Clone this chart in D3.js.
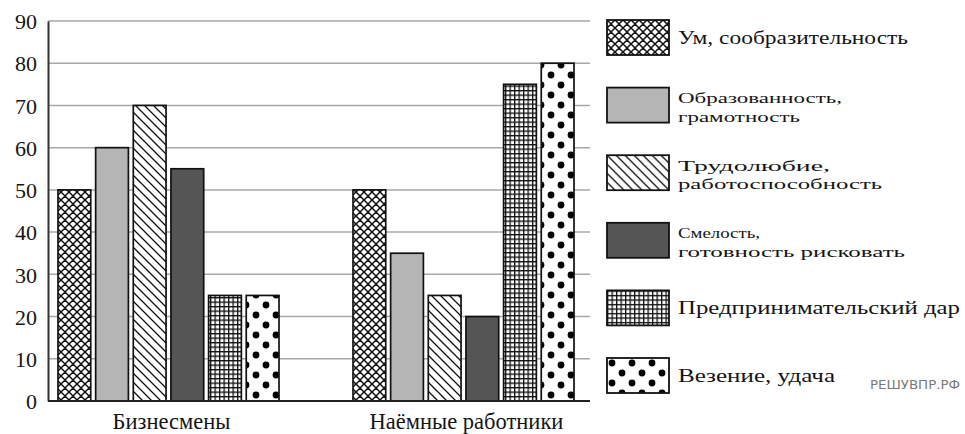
<!DOCTYPE html>
<html><head><meta charset="utf-8">
<script src="https://cdn.jsdelivr.net/npm/d3@7"></script>
<style>body{margin:0;background:#fff}svg{display:block}</style>
</head><body>
<svg id="c" width="965" height="434"></svg>
<script>
const categories = ["Бизнесмены", "Наёмные работники"];
const series = ["Ум, сообразительность", "Образованность, грамотность", "Трудолюбие, работоспособность", "Смелость, готовность рисковать", "Предпринимательский дар", "Везение, удача"];
const legendLines = [["Ум, сообразительность"], ["Образованность,", "грамотность"], ["Трудолюбие,", "работоспособность"], ["Смелость,", "готовность рисковать"], ["Предпринимательский дар"], ["Везение, удача"]];
const businessmen = [50, 60, 70, 55, 25, 25];
const employees = [50, 35, 25, 20, 75, 80];
const yTicks = [0, 10, 20, 30, 40, 50, 60, 70, 80, 90];
const watermark = "РЕШУВПР.РФ";

const values = [businessmen, employees];
const svg = d3.select("#c");
const defs = svg.append("defs");
const font = "'Liberation Serif', 'DejaVu Serif', 'Liberation Sans', sans-serif";

// patterns
const pCross = defs.append("pattern").attr("id","p0").attr("patternUnits","userSpaceOnUse").attr("width",8).attr("height",8);
pCross.append("rect").attr("width",8).attr("height",8).attr("fill","#fff");
pCross.append("path").attr("d","M0,0L8,8M8,0L0,8M-4,4L0,8M4,-4L12,4M4,12L12,4M-4,4L4,-4").attr("stroke","#111").attr("stroke-width",1.5);
const pDiag = defs.append("pattern").attr("id","p2").attr("patternUnits","userSpaceOnUse").attr("width",9).attr("height",9);
pDiag.append("rect").attr("width",9).attr("height",9).attr("fill","#fff");
pDiag.append("path").attr("d","M0,0L9,9M-9,0L9,18M0,-9L18,9").attr("stroke","#111").attr("stroke-width",1.3);
const pGrid = defs.append("pattern").attr("id","p4").attr("patternUnits","userSpaceOnUse").attr("width",4.5).attr("height",4.5);
pGrid.append("rect").attr("width",4.5).attr("height",4.5).attr("fill","#fff");
pGrid.append("path").attr("d","M0,0H4.5M0,0V4.5").attr("stroke","#111").attr("stroke-width",2.6);
const pDots = defs.append("pattern").attr("id","p5").attr("patternUnits","userSpaceOnUse").attr("width",20).attr("height",20);
pDots.append("rect").attr("width",20).attr("height",20).attr("fill","#fff");
[[5,5],[15,15],[-5,15],[25,15],[15,-5],[15,25]].forEach(([cx,cy])=>pDots.append("circle").attr("cx",cx).attr("cy",cy).attr("r",3.4).attr("fill","#000"));

const fills = ["url(#p0)", "#b5b5b5", "url(#p2)", "#555555", "url(#p4)", "url(#p5)"];

const y = d3.scaleLinear().domain([0, 90]).range([401, 21]);
const x0 = d3.scaleBand().domain(categories).range([21, 611]);
const x1 = d3.scaleBand().domain(series).range([37, 258]).paddingInner(0.13);
const axisX = 48, plotRight = 590;

// gridlines
svg.append("g").selectAll("line").data(yTicks.filter(d=>d>0)).join("line")
  .attr("x1", axisX).attr("x2", plotRight).attr("y1", d=>y(d)).attr("y2", d=>y(d))
  .attr("stroke", "#a8a8a8").attr("stroke-width", 1.5);

// y axis
const ya = svg.append("g").attr("transform", `translate(${axisX},0)`)
  .call(d3.axisLeft(y).tickValues(yTicks).tickSize(0).tickPadding(11));
ya.select(".domain").attr("stroke","#333").attr("stroke-width",2);
ya.selectAll("text").attr("font-family", font).attr("font-size", 22).attr("fill", "#151515").attr("dy","0.35em");

// bars
const groups = svg.append("g").selectAll("g").data(categories).join("g")
  .attr("transform", d=>`translate(${x0(d)},0)`);
groups.selectAll("rect").data((d,i)=>values[i].map((v,j)=>({s:series[j], v, j}))).join("rect")
  .attr("x", d=>x1(d.s)).attr("width", x1.bandwidth())
  .attr("y", d=>y(d.v)).attr("height", d=>y(0)-y(d.v))
  .attr("fill", d=>fills[d.j]).attr("stroke", "#111").attr("stroke-width", 1.7);

// baseline
svg.append("line").attr("x1", axisX).attr("x2", plotRight).attr("y1", y(0)).attr("y2", y(0)).attr("stroke","#222").attr("stroke-width",2);

// category labels
svg.append("g").selectAll("text").data(categories).join("text")
  .attr("x", d=>x0(d)+x0.bandwidth()/2 + 3).attr("y", 429)
  .attr("text-anchor","middle").attr("font-family", font).attr("font-size", 22.5).attr("fill","#151515")
  .text(d=>d);

// legend
const legendWidths = [[230], [164, 122], [152, 204], [82, 227], [282], [157]];
const lg = svg.append("g").selectAll("g").data(series).join("g")
  .attr("transform", (d,i)=>`translate(607,${20 + i*67.6})`);
lg.append("rect").attr("width", 62).attr("height", 35).attr("fill", (d,i)=>fills[i]).attr("stroke","#111").attr("stroke-width",1.8);
lg.each(function(d,i){
  const lines = legendLines[i];
  const g = d3.select(this);
  const single = lines.length === 1;
  const ys = single ? [24] : [15.5, 34];
  lines.forEach((ln, k) => {
    g.append("text").attr("x", 71).attr("y", ys[k])
      .attr("font-family", font).attr("font-size", single ? 18 : 15.6).attr("fill","#151515")
      .attr("textLength", legendWidths[i][k]).attr("lengthAdjust","spacingAndGlyphs")
      .text(ln);
  });
});

svg.append("text").attr("x", 870).attr("y", 389)
  .attr("font-family","'Liberation Sans Narrow','DejaVu Sans Condensed',sans-serif").attr("font-size", 13)
  .attr("textLength", 90).attr("lengthAdjust","spacingAndGlyphs")
  .attr("fill","#7a7a7a").text(watermark);
</script>
</body></html>
